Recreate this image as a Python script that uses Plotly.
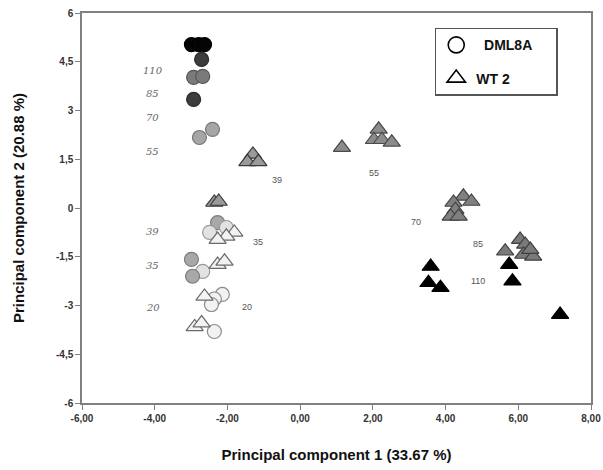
import plotly.graph_objects as go

# ---------------- data ----------------
dml_x = [-2.99, -2.79, -2.63, -2.71, -2.93, -2.68, -2.93, -2.77, -2.41,
         -2.27, -2.49, -2.03, -2.99, -2.68, -2.96, -2.14, -2.36, -2.44, -2.36]
dml_y = [5.03, 5.03, 5.03, 4.57, 4.02, 4.05, 3.34, 2.17, 2.42,
         -0.45, -0.75, -0.60, -1.58, -1.95, -2.10, -2.66, -2.80, -2.97, -3.80]
dml_temp = ["110", "110", "110", "85", "70", "70", "85", "55", "55",
            "39g", "39", "39", "35g", "35", "35g", "20", "20", "20", "20"]

wt_x = [-1.30, -1.45, -1.15, -2.36, -2.24,
        -1.81, -2.03, -2.27, -2.27, -2.08, -2.63, -2.90, -2.71,
        1.15, 2.16, 2.03, 2.25, 2.52,
        4.49, 4.71, 4.22, 4.27, 4.14, 4.36,
        5.64, 6.05, 6.19, 6.14, 6.41, 6.33,
        3.59, 3.53, 3.86, 5.75, 5.84, 7.15]
wt_y = [1.65, 1.42, 1.42, 0.17, 0.20,
        -0.75, -0.87, -0.97, -1.74, -1.64, -2.72, -3.66, -3.54,
        1.86, 2.42, 2.10, 2.10, 2.02,
        0.36, 0.20, 0.17, -0.05, -0.26, -0.26,
        -1.33, -0.97, -1.12, -1.43, -1.49, -1.28,
        -1.80, -2.30, -2.45, -1.74, -2.25, -3.28]
wt_temp = ["39g", "39g", "39g", "39g", "39g",
           "35", "35", "35", "35", "35", "20", "20", "20",
           "55", "55", "55", "55", "55",
           "70", "70", "70", "70", "70", "70",
           "85", "85", "85", "85", "85", "85",
           "110", "110", "110", "110", "110", "110"]

dml_label_text = ["110", "85", "70", "55", "39", "35", "20"]
dml_label_x = [-4.05, -4.05, -4.05, -4.05, -4.05, -4.05, -4.05]
dml_label_y = [4.22, 3.52, 2.80, 1.73, -0.72, -1.77, -3.06]

wt_label_text = ["39", "35", "20", "55", "70", "85", "110"]
wt_label_x = [-0.63, -1.15, -1.45, 2.03, 3.18, 4.90, 4.90]
wt_label_y = [0.85, -1.06, -3.06, 1.09, -0.42, -1.12, -2.26]

x_ticks = [-6, -4, -2, 0, 2, 4, 6, 8]
x_tick_text = ["-6,00", "-4,00", "-2,00", "0,00", "2,00", "4,00", "6,00", "8,00"]
y_ticks = [6, 4.5, 3, 1.5, 0, -1.5, -3, -4.5, -6]
y_tick_text = ["6", "4,5", "3", "1,5", "0", "-1,5", "-3", "-4,5", "-6"]

# ---------------- styles ----------------
dml_fill_map = {"110": "#050505", "85": "#3c3c3c", "70": "#7a7a7a", "55": "#a6a6a6",
                "39g": "#a8a8a8", "39": "#e2e2e2", "35g": "#a8a8a8", "35": "#e2e2e2",
                "20": "#f2f2f2"}
dml_line_map = {"110": "#000000", "85": "#2a2a2a", "70": "#555555", "55": "#777777",
                "39g": "#7a7a7a", "39": "#9a9a9a", "35g": "#7a7a7a", "35": "#9a9a9a",
                "20": "#8a8a8a"}
wt_fill_map = {"39g": "#9a9a9a", "35": "#f2f2f2", "20": "#f4f4f4", "55": "#8c8c8c",
               "70": "#808080", "85": "#7a7a7a", "110": "#000000"}
wt_line_map = {"39g": "#3a3a3a", "35": "#6a6a6a", "20": "#6a6a6a", "55": "#4a4a4a",
               "70": "#444444", "85": "#404040", "110": "#000000"}

FONT = "Liberation Sans, Arial, sans-serif"

fig = go.Figure()

fig.add_trace(go.Scatter(
    x=dml_x, y=dml_y, mode="markers", showlegend=False, hoverinfo="skip",
    marker=dict(symbol="circle", size=14,
                color=[dml_fill_map[t] for t in dml_temp],
                line=dict(color=[dml_line_map[t] for t in dml_temp], width=1.2))))

fig.add_trace(go.Scatter(
    x=wt_x, y=wt_y, mode="markers", showlegend=False, hoverinfo="skip",
    marker=dict(symbol="triangle-up", size=15,
                color=[wt_fill_map[t] for t in wt_temp],
                line=dict(color=[wt_line_map[t] for t in wt_temp], width=1.2))))

# legend-only traces
fig.add_trace(go.Scatter(x=[None], y=[None], mode="markers", name="  DML8A     ",
                         legendgroup="a",
                         marker=dict(symbol="circle-open", size=17, color="black",
                                     line=dict(width=1.6))))
fig.add_trace(go.Scatter(x=[None], y=[None], mode="markers", name="WT 2",
                         legendgroup="b",
                         marker=dict(symbol="triangle-up-open", size=18, color="black",
                                     line=dict(width=1.6))))

for t, x, y in zip(dml_label_text, dml_label_x, dml_label_y):
    fig.add_annotation(x=x, y=y, text="<i>" + t + "</i>", showarrow=False,
                       font=dict(family="DejaVu Serif, serif", size=10, color="#666666"))
for t, x, y in zip(wt_label_text, wt_label_x, wt_label_y):
    fig.add_annotation(x=x, y=y, text=t, showarrow=False,
                       font=dict(family=FONT, size=9, color="#555555"))

axis_common = dict(showline=True, linecolor="#808080", linewidth=1.5, mirror=True,
                   showgrid=False, zeroline=False, ticks="outside", ticklen=5,
                   tickcolor="#808080", tickwidth=1, automargin=False,
                   tickfont=dict(family=FONT, size=10, color="#333333", weight="bold"))

fig.update_layout(
    width=603, height=470,
    margin=dict(l=82, r=12, t=13, b=67),
    paper_bgcolor="white", plot_bgcolor="white",
    hovermode=False,
    xaxis=dict(range=[-6, 8], tickvals=x_ticks, ticktext=x_tick_text,
               title=dict(text="Principal component 1 (33.67 %)", standoff=27,
                          font=dict(family=FONT, size=15, color="#111111", weight="bold")),
               **axis_common),
    yaxis=dict(range=[-6, 6], tickvals=y_ticks, ticktext=y_tick_text,
               title=dict(text="Principal component 2 (20.88 %)", standoff=28,
                          font=dict(family=FONT, size=15, color="#111111", weight="bold")),
               **axis_common),
    legend=dict(x=0.693, y=0.962, xanchor="left", yanchor="top",
                bordercolor="#555555", borderwidth=1.5, bgcolor="white",
                font=dict(family=FONT, size=14, color="#111111", weight="bold"),
                itemsizing="trace", tracegroupgap=12, itemwidth=30),
)

fig.write_html("out.html", config={"displayModeBar": False},
               post_script="document.body.style.margin='0';document.body.style.overflow='hidden';")
